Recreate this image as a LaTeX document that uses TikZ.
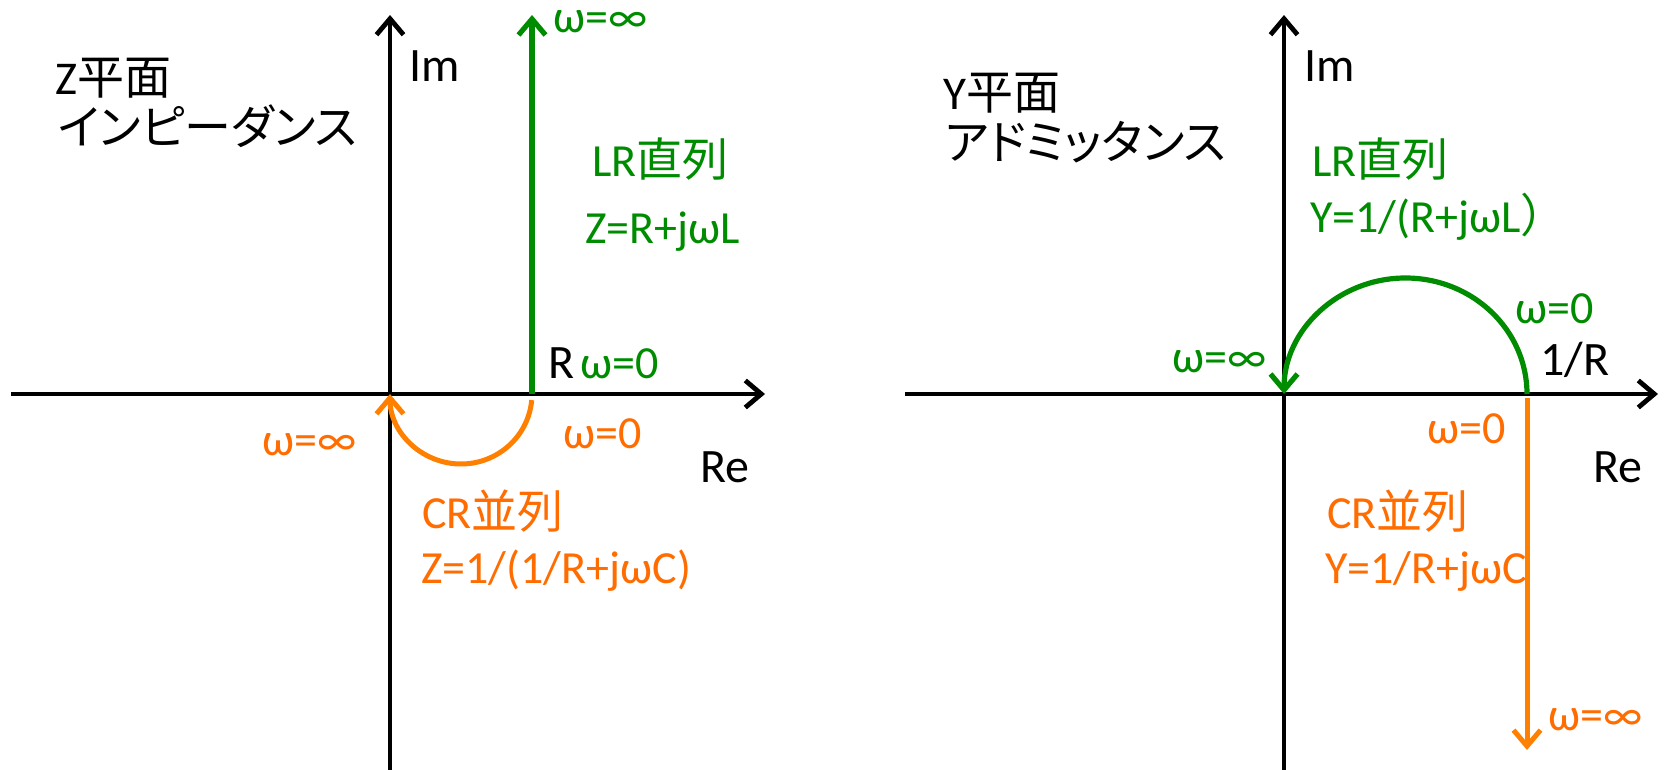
\documentclass[tikz,border=0pt]{standalone}
\usepackage{fontspec}
\setmainfont{Carlito}
\newfontfamily\jp{Noto Sans CJK JP}
\newfontfamily\jpp{Noto Sans CJK JP}[RawFeature=+palt]
\usetikzlibrary{arrows.meta}
\definecolor{mygreen}{RGB}{0,140,0}
\definecolor{myorange}{RGB}{255,128,0}
\definecolor{myorangetext}{RGB}{255,108,0}
\begin{document}
\begin{tikzpicture}[x=1pt,y=-1pt,
  axis/.style={line width=4.8pt,black,-{Straight Barb[length=16pt,width=27pt]}},
  gline/.style={line width=5.2pt,mygreen,-{Straight Barb[length=16pt,width=27pt]}},
  oline/.style={line width=5pt,myorange,-{Straight Barb[length=16pt,width=27pt]}},
  lbl/.style={inner sep=0pt,anchor=base west,font=\fontsize{48}{56}\selectfont},
  glbl/.style={lbl,text=mygreen,font=\fontsize{46}{54}\selectfont},
  olbl/.style={lbl,text=myorangetext,font=\fontsize{46}{54}\selectfont},
  title/.style={lbl,font=\fontsize{47}{54}\selectfont}]
\useasboundingbox (0,0) rectangle (1667,770);
\fill[white] (0,0) rectangle (1667,770);
% ---- left plane (Z) ----
\coordinate (zxs) at (11,394);
\coordinate (zxe) at (765,394);
\coordinate (zys) at (390,772);
\coordinate (zye) at (390,15);
\coordinate (zr) at (532,394);
\coordinate (zinf) at (532,15);
\coordinate (zcs) at (531.7,400.1);
\draw[axis] (zxs) -- (zxe);
\draw[axis] (zys) -- (zye);
\draw[gline] (zr) -- (zinf);
\draw[oline] (zcs) arc[start angle=5,end angle=180,x radius=71,y radius=70];
\node[title] (zt1) at (55,95) {Z{\jp 平面}};
\node[title] (zt2) at (58,145) {\jpp インピーダンス};
\node[lbl] (zim) at (409,82) {Im};
\node[lbl] (zre) at (700,482) {Re};
\node[lbl] (zR) at (548,378) {R};
\node[glbl] (zg1) at (553,33) {ω=∞};
\node[glbl] (zg2) at (592,177) {LR{\jp 直列}};
\node[glbl] (zg3) at (585,243) {Z=R+jωL};
\node[glbl] (zg4) at (580,378) {ω=0};
\node[olbl] (zo1) at (563,448) {ω=0};
\node[olbl] (zo2) at (262,455) {ω=∞};
\node[olbl] (zo3) at (422,528) {CR{\jp 並列}};
\node[olbl] (zo4) at (421,583) {Z=1/(1/R+jωC)};
% ---- right plane (Y) ----
\coordinate (yxs) at (905,394);
\coordinate (yxe) at (1658,394);
\coordinate (yys) at (1284,772);
\coordinate (yye) at (1284,15);
\coordinate (yr) at (1527,394);
\coordinate (yrd) at (1527,398);
\coordinate (yinf) at (1527,750);
\draw[axis] (yxs) -- (yxe);
\draw[axis] (yys) -- (yye);
\draw[gline] (yr) arc[start angle=0,end angle=-180,x radius=121.5,y radius=116];
\draw[oline] (yrd) -- (yinf);
\node[title] (yt1) at (943,110) {Y{\jp 平面}};
\node[title] (yt2) at (945,160) {\jpp アドミッタンス};
\node[lbl] (yim) at (1304,82) {Im};
\node[lbl] (yre) at (1593,482) {Re};
\node[lbl] (y1R) at (1540,375) {1/R};
\node[glbl] (yg1) at (1312,177) {LR{\jp 直列}};
\node[glbl] (yg2) at (1310,233) {Y=1/(R+jωL{\jp ）}};
\node[glbl] (yg3) at (1515,323) {ω=0};
\node[glbl] (yg4) at (1172,372) {ω=∞};
\node[olbl] (yo1) at (1427,443) {ω=0};
\node[olbl] (yo2) at (1327,528) {CR{\jp 並列}};
\node[olbl] (yo3) at (1325,583) {Y=1/R+jωC};
\node[olbl] (yo4) at (1548,730) {ω=∞};
\end{tikzpicture}
\end{document}
